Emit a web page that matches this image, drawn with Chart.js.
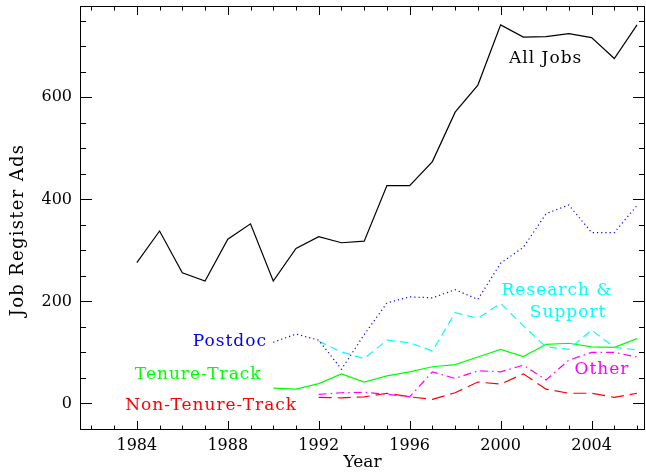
<!DOCTYPE html>
<html>
<head>
<meta charset="utf-8">
<script src="https://cdn.jsdelivr.net/npm/chart.js@4"></script>
<style>
  html, body { margin: 0; padding: 0; background: #fff; }
  #wrap { width: 646px; height: 473px; position: relative; }
</style>
</head>
<body>
<div id="wrap"><canvas id="jobsChart"></canvas></div>
<script>
// years on the x axis
const years = [1984, 1985, 1986, 1987, 1988, 1989, 1990, 1991, 1992, 1993, 1994, 1995,
               1996, 1997, 1998, 1999, 2000, 2001, 2002, 2003, 2004, 2005, 2006];

// series values (null = no data that year)
const allJobs = [276, 338, 256, 240, 322, 352, 240, 304, 327, 315, 318, 427,
                 427, 474, 571, 624, 742, 718, 719, 725, 717, 676, 742];
const postdoc = [null, null, null, null, null, null, 120, 136, 124, 67, 135, 197,
                 209, 207, 223, 204, 275, 306, 372, 389, 335, 335, 388];
const research = [null, null, null, null, null, null, null, null, 122, 101, 88, 124,
                  119, 103, 178, 167, 196, 152, 111, 106, 144, 110, 105];
const tenure = [null, null, null, null, null, null, 30, 28, 39, 58, 42, 54,
                62, 72, 76, 91, 106, 92, 116, 118, 111, 110, 127];
const other = [null, null, null, null, null, null, null, null, 18, 21, 22, 18,
               13, 62, 49, 64, 62, 75, 46, 85, 100, 100, 91];
const nonTenure = [null, null, null, null, null, null, null, null, 12, 11, 13, 20,
                   13, 8, 21, 42, 38, 58, 28, 20, 20, 12, 20];

// tick labels
const xTickLabels = [1984, 1988, 1992, 1996, 2000, 2004];
const yTickLabels = [0, 200, 400, 600];

// in-plot series labels (anchored in data units)
const seriesLabels = [
    { text: 'All Jobs', x: 2001.98, y: 676, color: '#000000' },
    { text: 'Research &', x: 2002.48, y: 222, color: '#00ffff' },
    { text: 'Support', x: 2002.97, y: 178, color: '#00ffff' },
    { text: 'Postdoc', x: 1988.09, y: 122, color: '#0000ff' },
    { text: 'Tenure-Track', x: 1986.7, y: 57, color: '#00ff00' },
    { text: 'Other', x: 2004.46, y: 67, color: '#ff00ff' },
    { text: 'Non-Tenure-Track', x: 1987.27, y: -5, color: '#ff0000' }
];

const FONT = 'DejaVu Serif';
const Y_TITLE = 'Job Register Ads';

function toPoints(values) {
    const pts = [];
    values.forEach((v, i) => {
        if (v !== null) pts.push({ x: years[i], y: v });
    });
    return pts;
}

function lineSet(label, values, color, dash) {
    return {
        label: label,
        data: toPoints(values),
        borderColor: color,
        borderWidth: 1.2,
        borderDash: dash,
        pointRadius: 0,
        tension: 0,
        fill: false
    };
}

// frame, inward ticks on all four sides, y title and the series labels
const framePlugin = {
    id: 'frame',
    afterDatasetsDraw(chart) {
        const { ctx, chartArea, scales } = chart;
        const { left, right, top, bottom } = chartArea;
        ctx.save();
        ctx.strokeStyle = '#000';
        ctx.lineWidth = 1;
        ctx.strokeRect(left + 0.5, top + 0.5, right - left - 1, bottom - top - 1);

        ctx.beginPath();
        for (let yr = 1982; yr <= 2006; yr++) {
            const px = Math.round(scales.x.getPixelForValue(yr)) + 0.5;
            const len = yr % 4 === 0 ? 9 : 4.5;
            ctx.moveTo(px, bottom); ctx.lineTo(px, bottom - len);
            ctx.moveTo(px, top); ctx.lineTo(px, top + len);
        }
        for (let v = 0; v <= 750; v += 50) {
            const py = Math.round(scales.y.getPixelForValue(v)) + 0.5;
            const len = v % 200 === 0 ? 12 : 6;
            ctx.moveTo(left, py); ctx.lineTo(left + len, py);
            ctx.moveTo(right, py); ctx.lineTo(right - len, py);
        }
        ctx.stroke();

        ctx.textAlign = 'center';
        ctx.textBaseline = 'middle';

        // y axis title, a little below the middle of the plot like the original
        ctx.save();
        ctx.font = '18px "' + FONT + '"';
        ctx.letterSpacing = '1.3px';
        ctx.fillStyle = '#000';
        ctx.translate(18, scales.y.getPixelForValue(340));
        ctx.rotate(-Math.PI / 2);
        ctx.fillText(Y_TITLE, 0, 0);
        ctx.restore();

        ctx.font = '17px "' + FONT + '"';
        ctx.letterSpacing = '1px';
        seriesLabels.forEach(l => {
            ctx.fillStyle = l.color;
            ctx.fillText(l.text, scales.x.getPixelForValue(l.x), scales.y.getPixelForValue(l.y));
        });
        ctx.restore();
    }
};

const ctx = document.getElementById('jobsChart').getContext('2d');
new Chart(ctx, {
    type: 'line',
    data: {
        datasets: [
            lineSet('All Jobs', allJobs, '#000000', []),
            lineSet('Postdoc', postdoc, '#0000ff', [1.2, 3]),
            lineSet('Research & Support', research, '#00ffff', [8, 5]),
            lineSet('Tenure-Track', tenure, '#00ff00', []),
            lineSet('Other', other, '#ff00ff', [8, 4, 1.5, 4]),
            lineSet('Non-Tenure-Track', nonTenure, '#ff0000', [13, 6])
        ]
    },
    options: {
        responsive: true,
        maintainAspectRatio: false,
        animation: false,
        layout: { padding: { top: 6, right: 1, left: 0, bottom: 0 } },
        plugins: {
            legend: { display: false },
            tooltip: { enabled: false }
        },
        scales: {
            x: {
                type: 'linear',
                min: 1981.5,
                max: 2006.35,
                grid: { display: false, drawTicks: false },
                border: { display: false },
                afterBuildTicks: (scale) => { scale.ticks = xTickLabels.map(v => ({ value: v })); },
                afterFit: (scale) => {
                    scale.height = 43;
                    scale.paddingLeft = 0;
                    scale.paddingRight = 0;
                },
                ticks: {
                    color: '#000',
                    font: { family: FONT, size: 16 },
                    padding: 6,
                    maxRotation: 0,
                    autoSkip: false,
                    callback: (value) => String(value)
                },
                title: {
                    display: true,
                    text: 'Year',
                    color: '#000',
                    font: { family: FONT, size: 17 },
                    padding: { top: 0, bottom: 0 }
                }
            },
            y: {
                min: -52,
                max: 779,
                grid: { display: false, drawTicks: false },
                border: { display: false },
                afterBuildTicks: (scale) => { scale.ticks = yTickLabels.map(v => ({ value: v })); },
                afterFit: (scale) => {
                    scale.width = 80;
                    scale.paddingTop = 0;
                    scale.paddingBottom = 0;
                },
                ticks: {
                    color: '#000',
                    font: { family: FONT, size: 16 },
                    padding: 8,
                    callback: (value) => String(value)
                },
                title: { display: false }
            }
        }
    },
    plugins: [framePlugin]
});
</script>
</body>
</html>
